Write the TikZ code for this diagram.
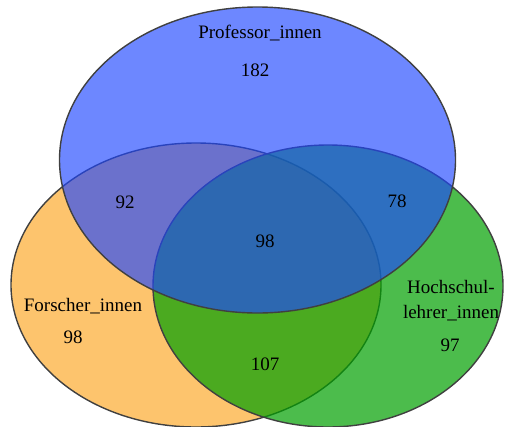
\documentclass[tikz,border=0pt]{standalone}
\usepackage{fontspec}
\setmainfont{Liberation Serif}
\usepackage{xcolor}
\usepackage{tikz}
\usetikzlibrary{positioning}
\definecolor{forschcol}{RGB}{253,196,109}
\definecolor{lehrcol}{RGB}{0,160,0}
\definecolor{profcol}{RGB}{30,70,255}
\tikzstyle{vennset} = [draw=black!75, line width=1.4pt]
\tikzstyle{vennlbl} = [font=\fontsize{19}{25}\selectfont, inner sep=1pt, align=center]
\begin{document}
\begin{tikzpicture}[x=1pt, y=-1pt]
        \useasboundingbox (0,0) rectangle (513,426);
        \clip (0,0) rectangle (513,426);
        % the three sets
        \draw[vennset, fill=forschcol] (196,285) ellipse [x radius=185pt, y radius=142pt];
        \draw[vennset, fill=lehrcol, fill opacity=0.7] (328,286) ellipse [x radius=175pt, y radius=141pt];
        \draw[vennset, fill=profcol, fill opacity=0.65] (257.5,160) ellipse [x radius=198pt, y radius=153pt];
        % labels
        \node[vennlbl] (prof) at (260,33) {Professor\_innen};
        \node[vennlbl] (profnum) at (255,70) {182};
        \node[vennlbl] (pfnum) at (125,202) {92};
        \node[vennlbl] (plnum) at (397,201) {78};
        \node[vennlbl] (allnum) at (265,241) {98};
        \node[vennlbl] (forsch) at (83,306) {Forscher\_innen};
        \node[vennlbl] (forschnum) at (73,337) {98};
        \node[vennlbl] (flnum) at (265,364) {107};
        \node[vennlbl] (lehr) at (451,301) {Hochschul-\\lehrer\_innen};
        \node[vennlbl] (lehrnum) at (450,345) {97};
      \end{tikzpicture}
\end{document}
